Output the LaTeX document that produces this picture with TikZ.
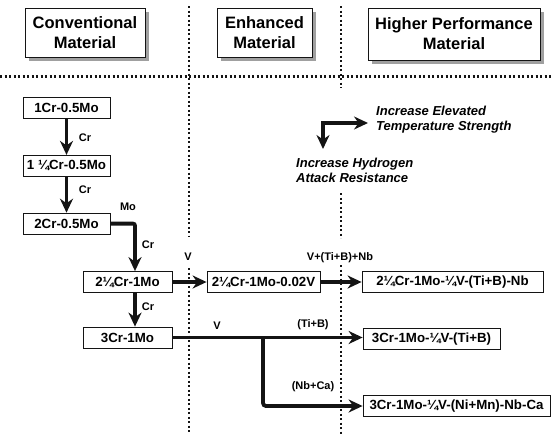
\documentclass[tikz,border=0pt]{standalone}
\usepackage{fontspec}
\setmainfont{Liberation Sans}
\usetikzlibrary{arrows.meta,positioning,shadows,calc}
\definecolor{Ink}{HTML}{141414}
\definecolor{Shade}{HTML}{A0A0A0}
\tikzset{
  head/.style={draw=Ink, line width=0.9pt, fill=white, align=center,
               font=\bfseries\fontsize{16.5}{20}\selectfont, inner sep=0pt,
               minimum height=49pt,
               drop shadow={shadow xshift=4pt, shadow yshift=-4pt, fill=Shade, opacity=1}},
  alloy/.style={draw=Ink, line width=0.8pt, fill=white, inner sep=0pt,
                font=\bfseries\fontsize{13.3}{15}\selectfont, minimum height=21pt},
  flow/.style={-{Stealth[length=14pt,width=13pt]}, line width=3.8pt, draw=Ink},
  lbl/.style={font=\bfseries\fontsize{11}{12}\selectfont, inner sep=1pt},
  note/.style={font=\bfseries\itshape\fontsize{13}{15}\selectfont, align=left, inner sep=0pt},
  sep/.style={line width=2.2pt, dash pattern=on 2.1pt off 2.4pt, draw=Ink},
}
\begin{document}
\begin{tikzpicture}[x=1pt, y=-1pt]
  \useasboundingbox (0,0) rectangle (551,434);
  % column separators
  \draw[sep] (0,76.5) -- (551,76.5);
  \draw[sep] (189,6) -- (189,237);
  \draw[sep] (189,268) -- (189,434);
  \draw[sep] (341,6) -- (341,88);
  \draw[sep] (341,193) -- (341,238);
  \draw[sep] (341,265) -- (341,434);

  \node[head, minimum width=120pt] (hconv) at (85,32.5) {Conventional\\Material};
  \node[head, minimum width=95pt] (henh) at (264.5,32.5) {Enhanced\\Material};
  \node[head, minimum width=172pt, minimum height=52pt] (hhigh) at (454,34) {Higher Performance\\Material};

  % conventional steels
  \node[alloy, minimum width=87pt] (b1) at (66.5,108) {1Cr-0.5Mo};
  \node[alloy, minimum width=87pt, below=36pt of b1] (b2) {1 ¼Cr-0.5Mo};
  \node[alloy, minimum width=87pt, below=36pt of b2] (b3) {2Cr-0.5Mo};
  \node[alloy, minimum width=89pt] (b4) at (127.5,282) {2¼Cr-1Mo};
  \node[alloy, minimum width=89pt] (b5) at (127.5,337.5) {3Cr-1Mo};
  \node[alloy, minimum width=113pt] (e1) at (263.5,282) {2¼Cr-1Mo-0.02V};
  \node[alloy, minimum width=181pt] (h1) at (452.5,282) {2¼Cr-1Mo-¼V-(Ti+B)-Nb};
  \node[alloy, minimum width=137pt] (h2) at (431.5,339) {3Cr-1Mo-¼V-(Ti+B)};
  \node[alloy, minimum width=187pt] (h3) at (456.5,406) {3Cr-1Mo-¼V-(Ni+Mn)-Nb-Ca};

  \draw[flow] (b1) -- (b2);
  \draw[flow] (b2) -- (b3);
  \draw[flow, rounded corners=2pt] (b3.east) -| ([xshift=7.5pt]b4.north);
  \draw[flow] ([xshift=7.5pt]b4.south) -- ([xshift=7.5pt]b5.north);
  \draw[flow] (b4) -- (e1);
  \draw[flow] (e1) -- (h1);
  \draw[flow] (b5.east) -- (b5.east -| h2.west);
  \coordinate (fork) at (263,337.5);
  \draw[flow, rounded corners=3pt] (fork) |- (h3.west);

  \node[lbl] (l1) at (85,138) {Cr};
  \node[lbl] (l2) at (85,190) {Cr};
  \node[lbl] (l3) at (128,207) {Mo};
  \node[lbl] (l4) at (148,245) {Cr};
  \node[lbl] (l5) at (148,307) {Cr};
  \node[lbl] (l6) at (188,257) {V};
  \node[lbl] (l7) at (217,326) {V};
  \node[lbl] (l8) at (340,258) {V+(Ti+B)+Nb};
  \node[lbl] (l9) at (313,325) {(Ti+B)};
  \node[lbl] (l10) at (313,387) {(Nb+Ca)};

  % legend
  \coordinate (lgc) at (323,123);
  \coordinate (lge) at (368,123);
  \coordinate (lgs) at (323,149);
  \draw[line width=3.8pt, draw=Ink, {Stealth[length=14pt,width=13pt]}-{Stealth[length=14pt,width=13pt]}]
    (lge) -- (lgc) -- (lgs);
  \node[note, anchor=west] (temp) at (376,119.5) {Increase Elevated\\Temperature Strength};
  \node[note, anchor=west] (hyd) at (296,170.5) {Increase Hydrogen\\Attack Resistance};
\end{tikzpicture}
\end{document}
